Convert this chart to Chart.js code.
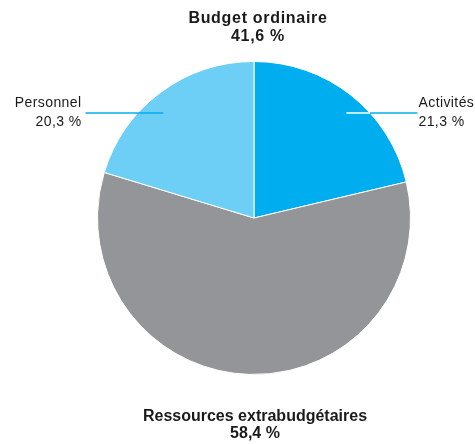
<!DOCTYPE html>
<html lang="fr">
<head>
  <meta charset="UTF-8">
  <title>Budget</title>
  <script src="https://cdn.jsdelivr.net/npm/chart.js"></script>
  <style>
    body { margin: 0; background: #fff; }
    #wrap { width: 475px; height: 444px; }
  </style>
</head>
<body>
<div id="wrap">
  <canvas id="pieChart" width="475" height="444"></canvas>
</div>

<script>
  const categories = ['Activités', 'Ressources extrabudgétaires', 'Personnel'];
  const values = [21.3, 58.4, 20.3];
  const valueLabels = ['21,3 %', '58,4 %', '20,3 %'];
  const sliceColors = ['#00aeef', '#939598', '#6dcff6'];
  const groupTop = ['Budget ordinaire', '41,6 %'];
  const groupBottom = ['Ressources extrabudgétaires', '58,4 %'];

  const labelPlugin = {
    id: 'pieLabels',
    afterDraw(chart) {
      const ctx = chart.ctx;
      const arcs = chart.getDatasetMeta(0).data;
      const cx = arcs[0].x, cy = arcs[0].y, r = arcs[0].outerRadius;
      ctx.save();
      ctx.textBaseline = 'middle';

      // top and bottom group titles
      ctx.fillStyle = '#1a1a1a';
      ctx.textAlign = 'center';
      ctx.font = 'bold 16px "Liberation Sans", Arial, sans-serif';
      ctx.letterSpacing = '0.7px';
      ctx.fillText(groupTop[0], cx + 4, 19);
      ctx.fillText(groupTop[1], cx + 4, 37);
      ctx.letterSpacing = '0px';
      ctx.fillText(groupBottom[0], cx + 1, 417);
      ctx.fillText(groupBottom[1], cx + 1, 434);

      // side labels with leader lines
      ctx.font = '14px "Liberation Sans", Arial, sans-serif';
      ctx.letterSpacing = '0.4px';
      [0, 2].forEach(i => {
        const a = arcs[i];
        const mid = (a.startAngle + a.endAngle) / 2;
        const right = Math.cos(mid) > 0;
        const ly = 113;
        const x0 = right ? cx + r * 0.59 : cx - r * 0.58;
        const x1 = right ? cx + r + 7 : cx - r - 12;
        ctx.lineWidth = 1.5;
        if (right) {
          const edge = cx + Math.sqrt(r * r - (ly - cy) * (ly - cy));
          ctx.strokeStyle = '#ffffff';
          ctx.beginPath(); ctx.moveTo(x0, ly); ctx.lineTo(edge, ly); ctx.stroke();
          ctx.strokeStyle = sliceColors[0];
          ctx.beginPath(); ctx.moveTo(edge, ly); ctx.lineTo(x1, ly); ctx.stroke();
        } else {
          ctx.strokeStyle = sliceColors[0];
          ctx.beginPath(); ctx.moveTo(x0, ly); ctx.lineTo(x1, ly); ctx.stroke();
        }
        ctx.fillStyle = '#1a1a1a';
        ctx.textAlign = right ? 'left' : 'right';
        const tx = right ? x1 + 1 : x1 - 4;
        ctx.fillText(categories[i], tx, 103);
        ctx.fillText(valueLabels[i], tx, 122);
      });
      ctx.restore();
    }
  };

  new Chart(document.getElementById('pieChart'), {
    type: 'pie',
    data: {
      labels: categories,
      datasets: [{
        data: values,
        backgroundColor: sliceColors,
        borderColor: '#ffffff',
        borderWidth: 1
      }]
    },
    options: {
      responsive: false,
      animation: false,
      layout: { padding: { top: 61, bottom: 69, left: 97, right: 64 } },
      plugins: {
        legend: { display: false },
        tooltip: { enabled: false }
      }
    },
    plugins: [labelPlugin]
  });
</script>
</body>
</html>
